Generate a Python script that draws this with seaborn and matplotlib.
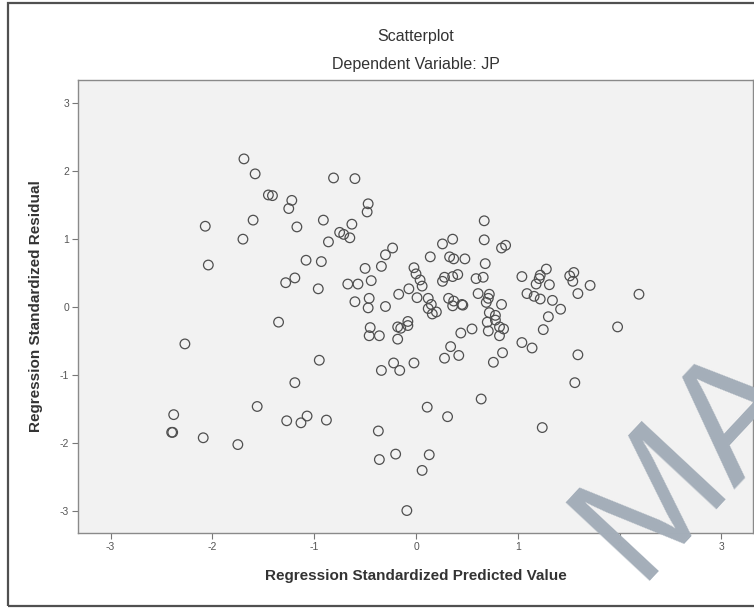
import numpy as np
import pandas as pd
import matplotlib
matplotlib.use("Agg")
import matplotlib.pyplot as plt
from matplotlib.patches import Rectangle
import seaborn as sns

# Data
pred = [-1.69, -1.58, -1.45, -1.41, -1.22, -1.25, -2.07, -1.60, -1.17, -1.70,
        -2.04, -1.08, -1.19, -1.28, -1.35, -2.27, -1.19, -2.38, -2.40, -2.39,
        -2.09, -1.56, -1.27, -1.13, -1.07, -1.75, -0.81, -0.60, -0.47, -0.48,
        -0.91, -0.63, -0.75, -0.71, -0.65, -0.86, -0.93, -0.96, -0.67, -0.57,
        -0.44, -0.50, -0.34, -0.30, -0.23, -0.60, -0.46, -0.47, -0.30, -0.17,
        -0.07, 0.01, -0.02, 0.00, 0.04, 0.06, 0.14, 0.26, 0.36, 0.33,
        0.37, 0.48, 0.41, 0.36, 0.28, 0.26, 0.12, 0.15, 0.12, 0.16,
        0.20, 0.32, 0.37, 0.36, 0.45, 0.46, 0.67, 0.67, 0.84, 0.88,
        0.68, 0.59, 0.66, 0.61, 0.72, 0.71, 0.69, 0.84, 0.72, 0.78,
        0.78, 0.70, 0.82, 0.86, 0.71, 0.82, 1.04, 1.09, -0.45, -0.46,
        -0.36, -0.18, -0.15, -0.08, -0.08, -0.18, 0.44, 0.55, 1.04, 1.14,
        -0.95, 0.34, 0.28, 0.42, 0.85, 0.76, -0.22, -0.02, -0.34, -0.16,
        0.64, 0.11, 0.31, -0.88, -0.37, -0.20, -0.36, 0.13, 0.06, -0.09,
        1.28, 1.22, 1.21, 1.18, 1.31, 1.51, 1.55, 1.54, 1.71, 1.59,
        1.16, 1.22, 1.34, 1.42, 1.30, 1.25, 2.19, 1.98, 1.59, 1.56,
        1.24]
resid = [2.18, 1.96, 1.65, 1.64, 1.57, 1.45, 1.19, 1.28, 1.18, 1.00,
         0.62, 0.69, 0.43, 0.36, -0.22, -0.54, -1.11, -1.58, -1.84, -1.84,
         -1.92, -1.46, -1.67, -1.70, -1.60, -2.02, 1.90, 1.89, 1.52, 1.40,
         1.28, 1.22, 1.10, 1.07, 1.02, 0.96, 0.67, 0.27, 0.34, 0.34,
         0.39, 0.57, 0.60, 0.77, 0.87, 0.08, 0.13, -0.01, 0.01, 0.19,
         0.27, 0.14, 0.58, 0.49, 0.40, 0.31, 0.74, 0.93, 1.00, 0.74,
         0.71, 0.71, 0.48, 0.45, 0.44, 0.38, 0.13, 0.04, -0.02, -0.10,
         -0.07, 0.13, 0.09, 0.02, 0.04, 0.03, 1.27, 0.99, 0.87, 0.91,
         0.64, 0.42, 0.44, 0.20, 0.19, 0.13, 0.07, 0.04, -0.08, -0.12,
         -0.19, -0.22, -0.29, -0.32, -0.35, -0.42, 0.45, 0.20, -0.30, -0.42,
         -0.42, -0.29, -0.31, -0.27, -0.21, -0.47, -0.38, -0.32, -0.52, -0.60,
         -0.78, -0.58, -0.75, -0.71, -0.67, -0.81, -0.82, -0.82, -0.93, -0.93,
         -1.35, -1.47, -1.61, -1.66, -1.82, -2.16, -2.24, -2.17, -2.40, -2.99,
         0.56, 0.47, 0.42, 0.34, 0.33, 0.46, 0.51, 0.38, 0.32, 0.20,
         0.16, 0.12, 0.10, -0.03, -0.14, -0.33, 0.19, -0.29, -0.70, -1.11,
         -1.77]
x_ticks = [-3, -2, -1, 0, 1, 2, 3]
y_ticks = [-3, -2, -1, 0, 1, 2, 3]
title_main = "Scatterplot"
title_sub = "Dependent Variable: JP"
x_label = "Regression Standardized Predicted Value"
y_label = "Regression Standardized Residual"

df = pd.DataFrame({"pred": pred, "resid": resid})

sns.set_style("white")
plt.rcParams["font.family"] = ["Liberation Sans", "DejaVu Sans"]

W, H = 754, 609
fig = plt.figure(figsize=(W / 100, H / 100), dpi=100)
ax = fig.add_axes([78 / W, 1 - 533 / H, (753 - 78) / W, (533 - 80) / H])
ax.set_facecolor("#f2f2f2")

sns.scatterplot(data=df, x="pred", y="resid", ax=ax, s=48,
                facecolor="none", edgecolor="#4f4f4f", linewidth=0.9,
                legend=False)

ax.set_xlim(-3.32, 3.31)
ax.set_ylim(-3.32, 3.34)
ax.set_xticks(x_ticks)
ax.set_yticks(y_ticks)
ax.set_xticklabels([str(t) for t in x_ticks])
ax.set_yticklabels([str(t) for t in y_ticks])
ax.tick_params(axis="both", which="major", direction="out", length=4.5,
               width=0.8, color="#777777", labelcolor="#555555", labelsize=7.5,
               pad=2, bottom=True, left=True)
for sp in ax.spines.values():
    sp.set_color("#8a8a8a")
    sp.set_linewidth(1.0)

ax.set_xlabel(x_label, fontsize=11, fontweight="bold", color="#333333", labelpad=12)
ax.set_ylabel(y_label, fontsize=11, fontweight="bold", color="#333333", labelpad=12)

fig.text(0.5 * (78 + 753) / W, 1 - 37 / H, title_main, ha="center", va="center",
         fontsize=11.5, color="#333333")
fig.text(0.5 * (78 + 753) / W, 1 - 65 / H, title_sub, ha="center", va="center",
         fontsize=11.5, color="#333333")

# outer chart frame
fig.patches.append(Rectangle((8 / W, 3 / H), 1.0, (606 - 3) / H,
                             transform=fig.transFigure, fill=False,
                             edgecolor="#505050", linewidth=1.6))

# watermark
fig.text(690 / W, 1 - 460 / H, "MA", ha="center", va="center", rotation=47,
         fontsize=120, color="#a4aeb9", zorder=20)

fig.savefig("out.png", dpi=100)
